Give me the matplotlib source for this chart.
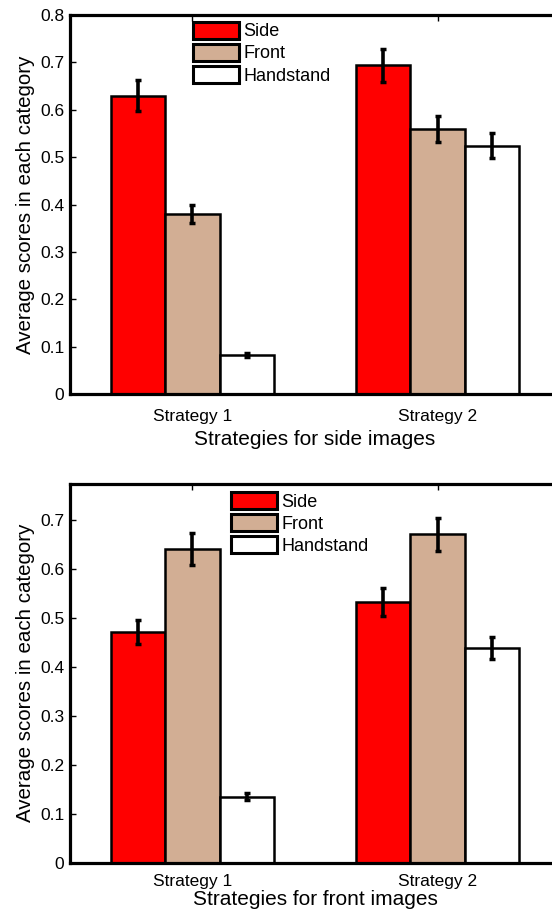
import numpy as np
import matplotlib
matplotlib.use('Agg')
import matplotlib.pyplot as plt
from matplotlib.patches import Patch

plt.rcParams['font.family'] = ['Liberation Sans', 'DejaVu Sans']

categories = ['Side', 'Front', 'Handstand']
strategies = ['Strategy 1', 'Strategy 2']
colors = ['#ff0000', '#d2ae94', '#ffffff']

# scores for side images, one list per category (Strategy 1, Strategy 2)
side_means = {'Side': [0.630, 0.694], 'Front': [0.380, 0.559], 'Handstand': [0.082, 0.524]}
side_errs = {'Side': [0.032, 0.035], 'Front': [0.019, 0.028], 'Handstand': [0.004, 0.026]}

# scores for front images
front_means = {'Side': [0.472, 0.533], 'Front': [0.641, 0.671], 'Handstand': [0.135, 0.439]}
front_errs = {'Side': [0.025, 0.028], 'Front': [0.032, 0.034], 'Handstand': [0.007, 0.022]}

panels = [
    (side_means, side_errs, 'Strategies for side images', 0.8,
     [0.1268, 0.5689, 0.8877, 0.4147], (0.251, 0.982), 11, 4),
    (front_means, front_errs, 'Strategies for front images', 0.774,
     [0.1268, 0.0563, 0.8877, 0.4141], (0.328, 0.979), 8, 1),
]

fig = plt.figure(figsize=(5.52, 9.14), dpi=100)

x = np.arange(1, len(strategies) + 1)
width = 0.667 / 3

for means, errs, xlabel, ytop, rect, leg_pos, xpad, lpad in panels:
    ax = fig.add_axes(rect)
    for i, cat in enumerate(categories):
        offs = (i - 1) * width
        ax.bar(x + offs, means[cat], width, color=colors[i], edgecolor='black',
               linewidth=1.8, zorder=2)
        ax.errorbar(x + offs, means[cat], yerr=errs[cat], fmt='none', ecolor='black',
                    elinewidth=2.6, capsize=1.9, capthick=2.5, zorder=3)
    ax.set_xlim(0.5, 2.5)
    ax.set_ylim(0, ytop)
    yt = np.arange(0, ytop + 0.001, 0.1)
    ax.set_yticks(yt)
    ax.set_yticklabels(['0' if v == 0 else '%.1f' % v for v in yt])
    ax.set_xticks(x)
    ax.set_xticklabels(strategies)
    for s in ax.spines.values():
        s.set_linewidth(2.3)
    ax.tick_params(direction='in', length=4, width=1, top=True, right=True,
                   labelsize=12.5)
    ax.tick_params(axis='x', pad=xpad)
    ax.tick_params(axis='y', pad=4)
    ax.set_xlabel(xlabel, fontsize=15, labelpad=lpad)
    ax.set_ylabel('Average scores in each category', fontsize=14.8, labelpad=4)

    handles = [Patch(facecolor=colors[i], edgecolor='black', linewidth=2.2, label=c)
               for i, c in enumerate(categories)]
    ax.legend(handles=handles, loc='upper left', bbox_to_anchor=leg_pos, frameon=False,
              fontsize=13, handlelength=2.55, handleheight=1.05, labelspacing=0.2,
              handletextpad=0.25, borderpad=0, borderaxespad=0)

fig.savefig('out.png', dpi=100)
